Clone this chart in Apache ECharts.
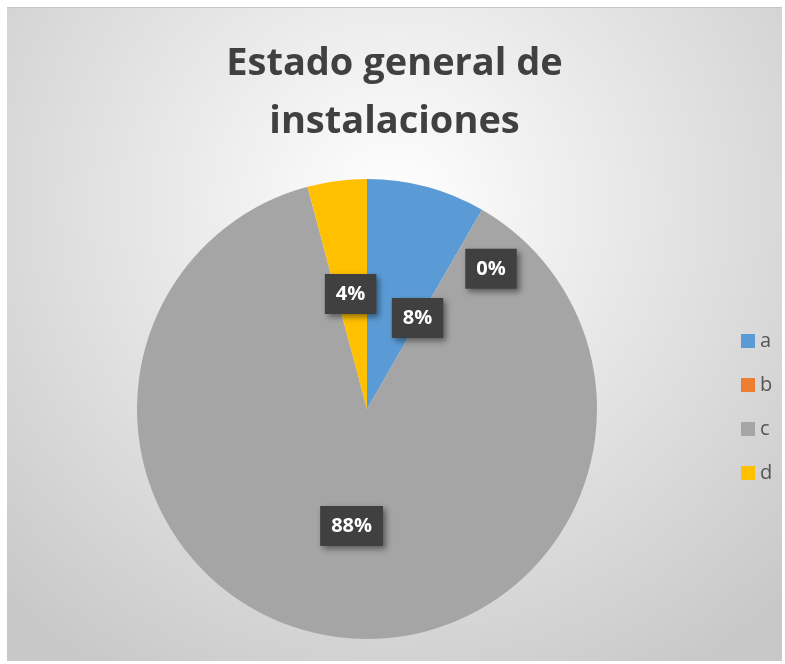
<!DOCTYPE html>
<html>
<head>
<meta charset="utf-8">
<script src="https://cdn.jsdelivr.net/npm/echarts@6/dist/echarts.min.js"></script>
<style>
  html, body { margin: 0; padding: 0; background: #fff; }
  .echart {
    position: absolute;
    left: 7px;
    top: 7px;
    width: 775px;
    height: 653px;
    border-top: 1px solid #c6c6c6;
  }
</style>
</head>
<body>
<div class="echart" id="chart"></div>
<script>
let categories = ['a', 'b', 'c', 'd']
let values = [2, 0, 21, 1]
let colors = ['#5B9BD5', '#ED7D31', '#A5A5A5', '#FFC000']
// nudges so the labels sit where the original put them
let labelNudge = [[20, 23], [65, -38], [0, 0], [-1, 2]]

let chart = echarts.init(document.getElementById('chart'))
let fontFamily = '"Open Sans", sans-serif'

let option = {
  backgroundColor: {
    type: 'radial',
    x: 0.5,
    y: 0.3,
    r: 0.85,
    colorStops: [
      { offset: 0, color: '#ffffff' },
      { offset: 1, color: '#c8c8c8' },
    ],
  },
  title: {
    text: 'Estado general de\ninstalaciones',
    left: 'center',
    top: 22,
    textStyle: {
      fontFamily: fontFamily,
      fontSize: 38,
      fontWeight: 'bold',
      color: '#404040',
      lineHeight: 58,
    },
  },
  legend: {
    orient: 'vertical',
    left: 729,
    top: 318,
    icon: 'rect',
    itemWidth: 14,
    itemHeight: 14,
    itemGap: 24,
    data: categories,
    textStyle: {
      fontFamily: fontFamily,
      fontSize: 20,
      lineHeight: 20,
      color: '#555555',
    },
  },
  series: [
    {
      type: 'pie',
      center: [360, 401],
      radius: 230,
      startAngle: 90,
      clockwise: true,
      avoidLabelOverlap: false,
      color: colors,
      label: {
        show: true,
        position: 'inside',
        fontFamily: fontFamily,
        fontSize: 20,
        fontWeight: 'bold',
        color: '#ffffff',
        backgroundColor: '#404040',
        padding: [10, 11],
        shadowColor: 'rgba(0,0,0,0.45)',
        shadowBlur: 6,
        shadowOffsetX: 3,
        shadowOffsetY: 3,
        formatter: function (params) {
          return Math.round(params.percent) + '%'
        },
      },
      labelLayout: function (params) {
        let n = labelNudge[params.dataIndex]
        return { dx: n[0], dy: n[1] }
      },
      emphasis: { disabled: true },
      data: categories.map((name, i) => ({ name: name, value: values[i] })),
    },
  ],
}

chart.setOption(option)
</script>
</body>
</html>
